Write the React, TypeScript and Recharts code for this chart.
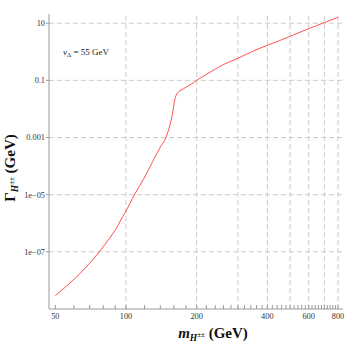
import { LineChart, Line, XAxis, YAxis, ReferenceLine } from 'recharts';

// H++ mass (GeV) and total width (GeV)
const MASS_GEV = [
    50, 56, 63, 70, 78, 84, 88, 91, 95, 99, 104, 109, 119, 130, 140, 148, 152, 155, 157.5, 159.5,
    161, 163, 166, 170, 176, 185, 194, 200, 215, 228, 250, 275, 300, 350, 404, 450, 500, 600, 700, 800,
];
const WIDTH_GEV = [
    2.9e-9, 6.5e-9, 1.6e-8, 4.0e-8, 1.15e-7, 2.6e-7, 4.4e-7, 6.6e-7, 1.3e-6, 2.3e-6, 5.0e-6, 1.05e-5,
    3.6e-5, 1.45e-4, 4.6e-4, 1.0e-3, 1.9e-3, 3.5e-3, 6.3e-3, 0.012, 0.019, 0.028, 0.037, 0.044, 0.051,
    0.066, 0.083, 0.1, 0.145, 0.192, 0.3, 0.44, 0.594, 1.08, 1.74, 2.45, 3.47, 6.46, 10.5, 16.2,
];

const X_MAJOR = [50, 100, 200, 400, 600, 800];
const X_MAJOR_LABELS = ['50', '100', '200', '400', '600', '800'];
const X_MINOR = [
    60, 70, 80, 90, 120, 140, 160, 180, 220, 240, 260, 280, 300, 320, 340, 360, 380,
    420, 440, 460, 480, 500, 520, 540, 560, 580, 620, 640, 660, 680, 700, 720, 740, 760, 780,
];
const X_GRID = [100, 200, 300, 400, 500, 600, 700, 800];
const Y_TICKS = [1e-7, 1e-5, 0.001, 0.1, 10];
const Y_TICK_LABELS = ['1e\u221207', '1e\u221205', '0.001', '0.1', '10'];

const SERIF = '"Liberation Serif", "Times New Roman", serif';
const FRAME = '#9a9a9a';
const GRID = '#cccccc';
const CURVE = '#ff4f4f';

const X_DOMAIN: [number, number] = [47, 840];
const Y_DOMAIN: [number, number] = [1e-9, 21];

export default function App() {
    const data = MASS_GEV.map((m, i) => ({ m, width: WIDTH_GEV[i] }));
    const xTicks = [...X_MAJOR, ...X_MINOR].sort((a, b) => a - b);
    const xLabel = (v: number) => {
        const i = X_MAJOR.indexOf(v);
        return i >= 0 ? X_MAJOR_LABELS[i] : '';
    };
    const yLabel = (v: number) => {
        const i = Y_TICKS.indexOf(v);
        return i >= 0 ? Y_TICK_LABELS[i] : '';
    };
    const tickStyle = { fill: '#333', fontSize: 8.3, fontFamily: SERIF };

    return (
        <div style={{ position: 'absolute', left: 0, top: 0, width: 349, height: 346, background: '#fff' }}>
            <LineChart width={349} height={346} data={data} margin={{ top: 14, right: 6, bottom: 0, left: 0 }}>
                <XAxis
                    dataKey="m"
                    type="number"
                    scale="log"
                    domain={X_DOMAIN}
                    allowDataOverflow
                    ticks={xTicks}
                    interval={0}
                    tickSize={-4}
                    tickMargin={8}
                    tickFormatter={xLabel}
                    height={37}
                    stroke={FRAME}
                    tick={tickStyle}
                />
                <XAxis
                    xAxisId="top"
                    orientation="top"
                    type="number"
                    scale="log"
                    domain={X_DOMAIN}
                    allowDataOverflow
                    ticks={xTicks}
                    interval={0}
                    tickSize={-4}
                    tick={false}
                    height={0}
                    stroke={FRAME}
                />
                <YAxis
                    type="number"
                    scale="log"
                    domain={Y_DOMAIN}
                    allowDataOverflow
                    ticks={Y_TICKS}
                    interval={0}
                    tickSize={3}
                    tickMargin={1}
                    tickFormatter={yLabel}
                    width={49}
                    stroke={FRAME}
                    tick={tickStyle}
                />
                <YAxis
                    yAxisId="right"
                    orientation="right"
                    type="number"
                    scale="log"
                    domain={Y_DOMAIN}
                    allowDataOverflow
                    ticks={Y_TICKS}
                    interval={0}
                    tickSize={-3}
                    tick={false}
                    width={0}
                    stroke={FRAME}
                />
                {X_GRID.map((x) => (
                    <ReferenceLine key={'gx' + x} x={x} stroke={GRID} strokeDasharray="5 3" />
                ))}
                {Y_TICKS.map((y) => (
                    <ReferenceLine key={'gy' + y} y={y} stroke={GRID} strokeDasharray="5 3" />
                ))}
                <Line
                    dataKey="width"
                    type="monotone"
                    stroke={CURVE}
                    strokeWidth={1}
                    dot={false}
                    isAnimationActive={false}
                />
                <text x={63} y={55} fontFamily={SERIF} fontSize={9} fill="#222">
                    <tspan fontStyle="italic">v</tspan>
                    <tspan fontSize={6.5} dy={2}>Δ</tspan>
                    <tspan dy={-2}>{' = 55 GeV'}</tspan>
                </text>
                <text
                    x={213}
                    y={338}
                    textAnchor="middle"
                    fontFamily={SERIF}
                    fontSize={15}
                    fontWeight="bold"
                    fill="#111"
                >
                    <tspan fontStyle="italic">m</tspan>
                    <tspan fontSize={9.5} fontStyle="italic" dy={3}>H</tspan>
                    <tspan fontSize={7} dy={-4}>±±</tspan>
                    <tspan dy={1}>{' (GeV)'}</tspan>
                </text>
                <text
                    x={15}
                    y={168}
                    transform="rotate(-90, 15, 168)"
                    textAnchor="middle"
                    fontFamily={SERIF}
                    fontSize={15}
                    fontWeight="bold"
                    fill="#111"
                >
                    <tspan>Γ</tspan>
                    <tspan fontSize={9.5} fontStyle="italic" dy={3}>H</tspan>
                    <tspan fontSize={7} dy={-4}>±±</tspan>
                    <tspan dy={1}>{' (GeV)'}</tspan>
                </text>
            </LineChart>
        </div>
    );
}
